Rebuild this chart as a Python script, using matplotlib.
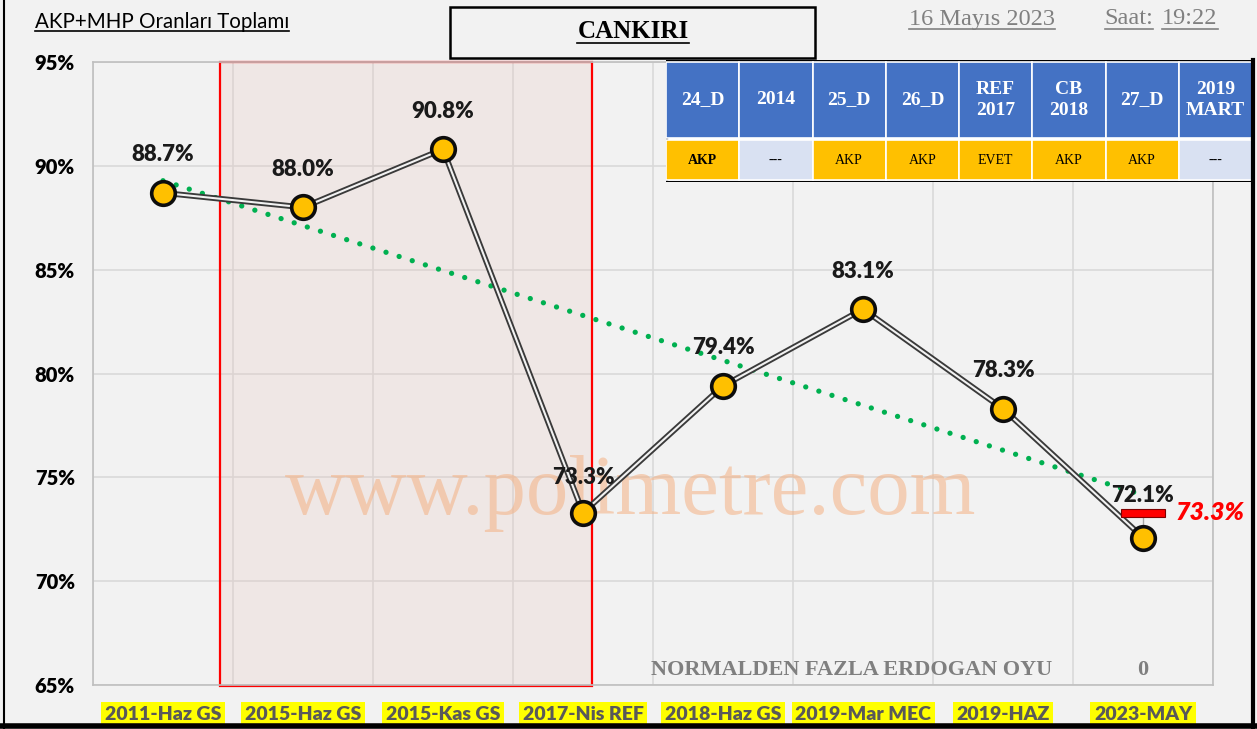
import numpy as np
import matplotlib.pyplot as plt
from matplotlib.patches import Rectangle
from matplotlib.lines import Line2D

categories = ['2011-Haz GS', '2015-Haz GS', '2015-Kas GS', '2017-Nis REF',
              '2018-Haz GS', '2019-Mar MEC', '2019-HAZ', '2023-MAY']
values = [88.7, 88.0, 90.8, 73.3, 79.4, 83.1, 78.3, 72.1]
erdogan_2023 = 73.3
yticks = [65, 70, 75, 80, 85, 90, 95]

table_head = ['24_D', '2014', '25_D', '26_D', 'REF\n2017', 'CB\n2018', '27_D', '2019\nMART']
table_vals = ['AKP', '---', 'AKP', 'AKP', 'EVET', 'AKP', 'AKP', '---']

bg = '#f2f2f2'
fig = plt.figure(figsize=(12.57, 7.29), dpi=100, facecolor=bg)
W, H = 1257, 729
sans = 'Lato'
wt = 'heavy'

def fx(px):
    return px / W

def fy(py):
    return 1 - py / H

ax = fig.add_axes([fx(93), fy(685), fx(1213) - fx(93), fy(62) - fy(685)])
ax.set_facecolor(bg)
x = np.arange(len(values))
ax.set_xlim(-0.5, len(values) - 0.5)
ax.set_ylim(65, 95)

# grid at category borders
ax.set_xticks(np.arange(-0.5, len(values) + 0.5, 1), minor=True)
ax.set_xticks(x)
ax.set_xticklabels(categories)
ax.set_yticks(yticks)
ax.set_yticklabels([f'{v}%' for v in yticks])
ax.grid(True, which='minor', axis='x', color='#d9d9d9', lw=1.2)
ax.grid(True, which='major', axis='y', color='#d9d9d9', lw=1.2)
ax.set_axisbelow(True)
ax.tick_params(which='both', length=0)
ax.tick_params(axis='y', pad=13)
ax.tick_params(axis='x', pad=15)
for s in ax.spines.values():
    s.set_color('#bfbfbf')
    s.set_linewidth(1.2)

for lab in ax.get_yticklabels():
    lab.set_fontfamily(sans)
    lab.set_fontweight(wt)
    lab.set_fontsize(14.5)
for lab in ax.get_xticklabels():
    lab.set_fontfamily(sans)
    lab.set_fontweight(wt)
    lab.set_fontsize(14)
    lab.set_color('#595959')
    lab.set_bbox(dict(facecolor='#ffff00', edgecolor='none', pad=2.5))

# highlight box
ax.add_patch(Rectangle((0.407, 64.95), 2.657, 30.05, facecolor='#e8c8c0', alpha=0.25,
                       edgecolor='none', zorder=0.6, clip_on=False))
ax.add_patch(Rectangle((0.407, 64.95), 2.657, 30.05, facecolor='none',
                       edgecolor='#ff0000', lw=1.6, zorder=1, clip_on=False))

# watermark
ax.text(3.34, 74.2, 'www.polimetre.com', fontsize=61, family='Liberation Serif',
        color='#f4b183', alpha=0.55, ha='center', va='center', zorder=1)

# trend line
k, b = np.polyfit(x, values, 1)
ax.plot(x, k * x + b, color='#00b050', lw=3.8, linestyle=(0, (0.01, 2.6)),
        dash_capstyle='round', zorder=3)

# main line (double line look)
ax.plot(x, values, color='#3a3a3a', lw=4.2, zorder=4, solid_joinstyle='miter')
ax.plot(x, values, color='#f2f2f2', lw=1.5, zorder=5, solid_joinstyle='miter')

# 2023 Erdogan marker
ax.plot([7, 7], [erdogan_2023, values[-1]], color='#a6a6a6', lw=1, zorder=5)
ax.bar(7, 0.38, bottom=erdogan_2023 - 0.19, width=0.31, color='#ff0000',
       edgecolor='#7f0000', lw=0.8, zorder=6)
ax.text(7.48, erdogan_2023, f'{erdogan_2023}%', color='#ff0000', fontsize=18,
        fontweight=wt, style='italic', family=sans, ha='center', va='center',
        clip_on=False, zorder=7)

ax.plot(x, values, 'o', ms=17, mfc='#ffc000', mec='#0d0d0d', mew=2.6, zorder=6)

offsets = [38, 38, 38, 35, 38, 38, 38, 42]
for xi, v, off in zip(x, values, offsets):
    ax.annotate(f'{v}%', (xi, v), xytext=(0, off * 0.72), textcoords='offset points',
                ha='center', va='center', fontsize=16, fontweight=wt,
                family=sans, color='#1a1a1a', zorder=8)

ax.text(4.92, 65.73, 'NORMALDEN FAZLA ERDOGAN OYU', fontsize=16, fontweight='bold',
        family='Liberation Serif', color='#7f7f7f', ha='center', va='center', zorder=2)
ax.text(7.0, 65.73, '0', fontsize=16, fontweight='bold',
        family='Liberation Serif', color='#7f7f7f', ha='center', va='center', zorder=2)

# header texts
def underlined(xp, yp, s, **kw):
    t = fig.text(fx(xp), fy(yp), s, **kw)
    fig.canvas.draw()
    bb = t.get_window_extent()
    c = kw.get('color', 'black')
    fig.add_artist(Line2D([bb.x0 / W, bb.x1 / W], [(bb.y0 + 1) / H] * 2,
                          color=c, lw=1.2))
    return t

underlined(35, 22, 'AKP+MHP Oranları Toplamı', fontsize=14.8, family=sans,
           ha='left', va='center', color='black')

fig.add_artist(Rectangle((fx(450), fy(58)), fx(815) - fx(450), fy(7) - fy(58),
                         facecolor=bg, edgecolor='black', lw=1.8,
                         transform=fig.transFigure))
underlined(633, 32, 'CANKIRI', fontsize=18, family='Liberation Serif',
           fontweight='bold', ha='center', va='center', color='black')
underlined(982, 19, '16 Mayıs 2023', fontsize=17.5, family='Liberation Serif',
           ha='center', va='center', color='#808080')
underlined(1129, 19, 'Saat:', fontsize=17.5, family='Liberation Serif',
           ha='center', va='center', color='#808080')
underlined(1190, 19, '19:22', fontsize=17.5, family='Liberation Serif',
           ha='center', va='center', color='#808080')

# table
tax = fig.add_axes([fx(666), fy(182), fx(1252) - fx(666), fy(60) - fy(182)])
tax.set_xlim(0, len(table_head))
tax.set_ylim(0, 122)
tax.axis('off')
tax.add_patch(Rectangle((0, 0), len(table_head), 122, facecolor='white',
                        edgecolor='black', lw=2.5, zorder=0))
for i, (h, v) in enumerate(zip(table_head, table_vals)):
    tax.add_patch(Rectangle((i, 44), 1, 76, facecolor='#4472c4', edgecolor='white',
                            lw=1.2))
    c = '#ffc000' if v != '---' else '#d9e1f2'
    tax.add_patch(Rectangle((i, 2), 1, 40, facecolor=c, edgecolor='white', lw=1.2))
    tax.text(i + 0.5, 82, h, ha='center', va='center', color='white', fontsize=14,
             fontweight='bold', family='Liberation Serif', linespacing=1.3)
    tax.text(i + 0.5, 22, v, ha='center', va='center', color='black', fontsize=10,
             fontweight='bold' if i == 0 else 'normal', family='Liberation Serif')

# outer frame
fig.add_artist(Line2D([fx(4), fx(4)], [0, 1], color='black', lw=1.5))
fig.add_artist(Line2D([fx(1253), fx(1253)], [0, fy(60)], color='black', lw=3))
fig.add_artist(Line2D([0, 1], [fy(726), fy(726)], color='black', lw=4))

fig.savefig('out.png', dpi=100, facecolor=bg)
